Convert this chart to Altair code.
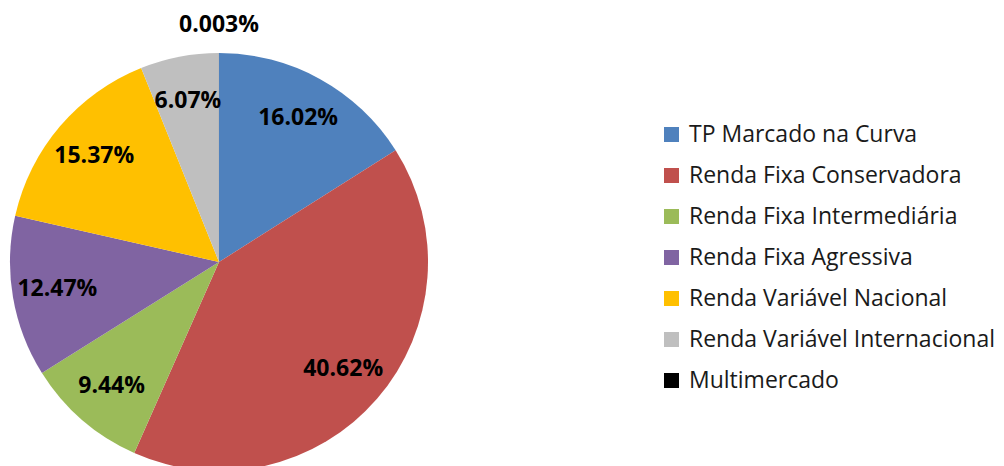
import altair as alt
import pandas as pd

categories = [
    "TP Marcado na Curva",
    "Renda Fixa Conservadora",
    "Renda Fixa Intermediária",
    "Renda Fixa Agressiva",
    "Renda Variável Nacional",
    "Renda Variável Internacional",
    "Multimercado",
]
values = [16.02, 40.62, 9.44, 12.47, 15.37, 6.07, 0.003]
labels = ["16.02%", "40.62%", "9.44%", "12.47%", "15.37%", "6.07%", "0.003%"]
colors = ["#4F81BD", "#C0504D", "#9BBB59", "#8064A2", "#FFC000", "#BFBFBF", "#000000"]

df = pd.DataFrame({
    "categoria": categories,
    "valor": values,
    "rotulo": labels,
    "ordem": list(range(len(categories))),
})

CX, CY, R = 211, 254, 209

base = alt.Chart(df).encode(
    theta=alt.Theta("valor:Q", stack=True),
    order=alt.Order("ordem:Q", sort="ascending"),
    x=alt.value(CX),
    y=alt.value(CY),
)

pie = base.mark_arc(outerRadius=R, stroke=None).encode(
    color=alt.Color(
        "categoria:N",
        sort=categories,
        scale=alt.Scale(domain=categories, range=colors),
        legend=alt.Legend(
            title=None,
            orient="none",
            legendX=652,
            legendY=115,
            symbolType="square",
            symbolSize=225,
            symbolStrokeWidth=0,
            labelFont="Open Sans",
            labelFontSize=23,
            labelColor="#1a1a1a",
            labelLimit=400,
            rowPadding=17,
            symbolOffset=0,
            labelOffset=6,
        ),
    )
)

inner = base.transform_calculate(
    t="datum.valor < 1 ? '' : datum.rotulo"
).mark_text(
    radius=164, font="Open Sans", fontSize=23, fontWeight="bold", color="#000000"
).encode(text="t:N", detail="categoria:N")

outer = base.transform_calculate(
    t="datum.valor < 1 ? datum.rotulo : ''"
).mark_text(
    radius=237, font="Open Sans", fontSize=23, fontWeight="bold", color="#000000"
).encode(text="t:N", detail="categoria:N")

chart = alt.layer(pie, inner, outer).properties(
    width=988,
    height=458,
    padding=0,
    autosize=alt.AutoSizeParams(type="none"),
).configure_view(stroke=None)

chart.save("out.html", embed_options={"renderer": "svg", "actions": False})
